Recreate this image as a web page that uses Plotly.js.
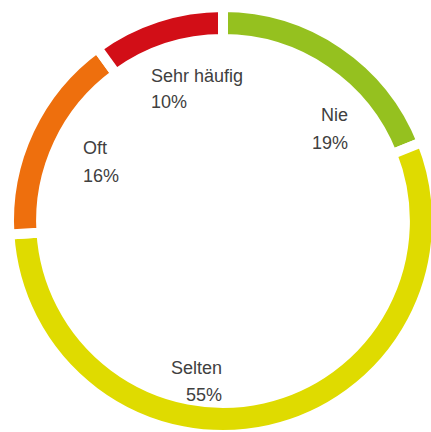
<!DOCTYPE html>
<html>
<head>
<meta charset="utf-8">
<script src="https://cdn.plot.ly/plotly-3.0.1.min.js"></script>
<style>
  html, body { margin: 0; padding: 0; overflow: hidden; background: #ffffff; }
  #chart { width: 440px; height: 440px; }
</style>
</head>
<body>
<div id="chart"></div>
<script>
// Data
var categories = ["Nie", "Selten", "Oft", "Sehr häufig"];
var values = [19, 55, 16, 10];
var colors = ["#95c11f", "#dfdb00", "#ee6f0d", "#d20e17"];

// Label placement (pixels): [x, yName, yPct, anchor]
var labelPos = [
  [350, 115, 142.5, "right"],
  [224, 368, 394.7, "right"],
  [81, 148, 175.5, "left"],
  [149, 75.5, 102.5, "left"]
];

var W = 440, H = 440;
var annotations = [];
for (var i = 0; i < categories.length; i++) {
  var p = labelPos[i];
  var font = {family: "Liberation Sans, Arial, sans-serif", size: 18, color: "#404040"};
  annotations.push({
    text: categories[i], x: p[0] / W, y: 1 - p[1] / H, xref: "paper", yref: "paper",
    xanchor: p[3], yanchor: "middle", showarrow: false, font: font
  });
  annotations.push({
    text: values[i] + "%", x: p[0] / W, y: 1 - p[2] / H, xref: "paper", yref: "paper",
    xanchor: p[3], yanchor: "middle", showarrow: false, font: font
  });
}

var trace = {
  type: "pie",
  labels: categories,
  values: values,
  sort: false,
  direction: "clockwise",
  rotation: 0,
  hole: 0.85,
  textinfo: "none",
  hoverinfo: "none",
  marker: {colors: colors, line: {color: "#ffffff", width: 10}},
  domain: {x: [9 / W, 437 / W], y: [5 / H, 433 / H]},
  showlegend: false
};

var layout = {
  width: W, height: H,
  margin: {l: 0, r: 0, t: 0, b: 0},
  paper_bgcolor: "#ffffff",
  plot_bgcolor: "#ffffff",
  showlegend: false,
  annotations: annotations
};

Plotly.newPlot("chart", [trace], layout, {displayModeBar: false, staticPlot: true});
</script>
</body>
</html>
